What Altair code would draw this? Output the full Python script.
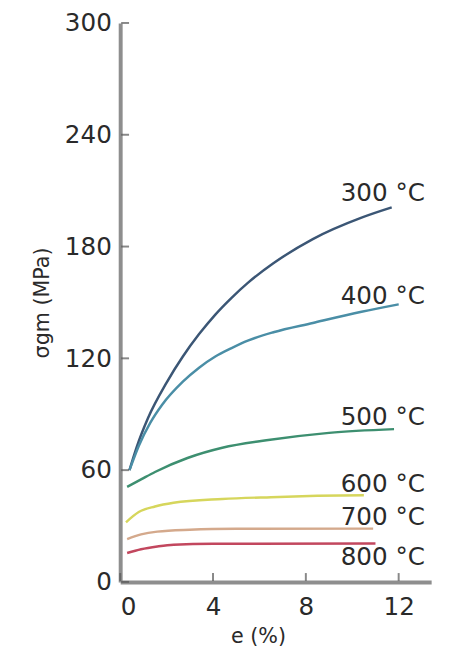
import altair as alt
import pandas as pd

# Curve data (strain e in %, stress in MPa)
temps = ["300 °C", "400 °C", "500 °C", "600 °C", "700 °C", "800 °C"]
colors = ["#3b5675", "#4a8ea6", "#3d8f70", "#d6d65c", "#d4a98c", "#c2475e"]

x300 = [0.4, 0.7, 1.2, 2.0, 2.7, 3.4, 4.1, 4.8, 5.5, 6.6, 8.3, 10.4, 11.7]
y300 = [60, 72, 88, 107, 121, 133, 143.5, 152.5, 160.5, 171, 184, 195.5, 201]
x400 = [0.4, 0.8, 1.3, 1.8, 2.7, 3.4, 4.1, 4.8, 5.5, 6.6, 8.3, 10.4, 12.0]
y400 = [60, 73, 85.5, 95, 107.5, 115, 121, 125.5, 129.5, 134, 139, 145, 149]
x500 = [0.3, 0.9, 1.5, 2.9, 4.4, 6.3, 9.0, 11.8]
y500 = [51, 55, 59, 66.5, 72, 76, 80, 82]
x600 = [0.25, 0.8, 1.5, 2.3, 4.4, 6.5, 8.5, 10.5]
y600 = [32, 37.5, 40.5, 42.5, 44.5, 45.5, 46.2, 46.5]
x700 = [0.3, 0.9, 1.6, 3.0, 5.0, 10.9]
y700 = [23, 25.5, 27, 28, 28.5, 28.6]
x800 = [0.3, 0.9, 1.6, 2.3, 4.0, 11.0]
y800 = [15.5, 17.5, 19, 20, 20.5, 20.6]

label_x = [9.5, 9.5, 9.5, 9.5, 9.5, 9.5]
label_y = [208.7, 153.6, 88.4, 52.4, 34.9, 13.2]

x_ticks = [0, 4, 8, 12]
y_ticks = [0, 60, 120, 180, 240, 300]

xs = [x300, x400, x500, x600, x700, x800]
ys = [y300, y400, y500, y600, y700, y800]
rows = []
for t, xa, ya in zip(temps, xs, ys):
    for i, (a, b) in enumerate(zip(xa, ya)):
        rows.append({"T": t, "e": a, "s": b, "o": i})
df = pd.DataFrame(rows)
lab = pd.DataFrame({"T": temps, "e": label_x, "s": label_y})

xscale = alt.Scale(domain=[0, 13.4], nice=False, zero=False)
yscale = alt.Scale(domain=[0, 300], nice=False)
cscale = alt.Scale(domain=temps, range=colors)

FONT = "DejaVu Sans"
axis_common = dict(
    domainColor="#8e8e8e", domainWidth=4, ticks=False, grid=False,
    labelFont=FONT, labelFontSize=25, labelColor="#2a2a2a",
    titleFont=FONT, titleFontSize=21, titleColor="#2a2a2a",
    titleFontWeight="normal",
)

lines = alt.Chart(df).mark_line(strokeWidth=2.5, interpolate="monotone").encode(
    x=alt.X("e:Q", scale=xscale,
            axis=alt.Axis(values=x_ticks, title="e (%)", labelPadding=13,
                          titlePadding=7, titleX=140, **axis_common)),
    y=alt.Y("s:Q", scale=yscale,
            axis=alt.Axis(values=y_ticks, title="σgm (MPa)", labelPadding=9,
                          titlePadding=12, **axis_common)),
    color=alt.Color("T:N", scale=cscale, legend=None),
    order="o:Q",
)

texts = alt.Chart(lab).mark_text(
    align="left", baseline="middle", font=FONT, fontSize=25,
    color="#2a2a2a",
).encode(x=alt.X("e:Q", scale=xscale), y=alt.Y("s:Q", scale=yscale), text="T:N")

ytk = alt.Chart(pd.DataFrame({"v": y_ticks})).mark_tick(
    orient="horizontal", size=8, thickness=2, color="#555555", xOffset=5
).encode(x=alt.value(0), y=alt.Y("v:Q", scale=yscale))

xtk = alt.Chart(pd.DataFrame({"v": x_ticks})).mark_tick(
    orient="vertical", size=8, thickness=2, color="#555555", yOffset=-5
).encode(x=alt.X("v:Q", scale=xscale), y=alt.value(568))

chart = alt.layer(lines, texts, ytk, xtk).properties(
    width=316, height=568,
    autosize=alt.AutoSizeParams(type="none"),
    padding={"left": 114, "top": 10, "right": 10, "bottom": 66},
).configure_view(stroke=None)

chart.save("out.html", embed_options={"renderer": "svg", "actions": False})
